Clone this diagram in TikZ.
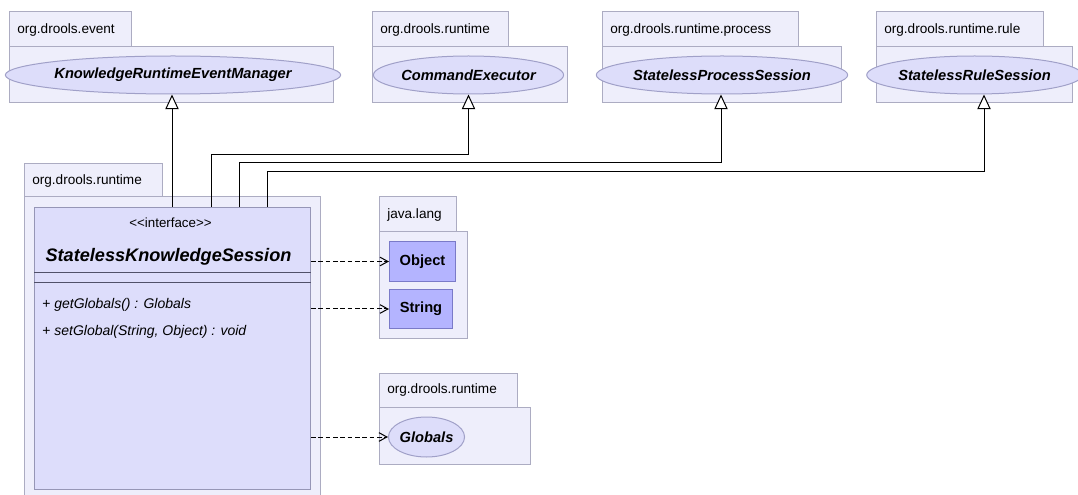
\documentclass[tikz,border=0pt]{standalone}
\usepackage{fontspec}
\setmainfont{Liberation Sans}
\usepackage{tikz}
\usetikzlibrary{arrows.meta, shapes.geometric, calc}
\definecolor{pkgfill}{RGB}{238,238,251}
\definecolor{pkgdraw}{RGB}{172,172,194}
\definecolor{clsfill}{RGB}{221,221,251}
\definecolor{clsdraw}{RGB}{150,150,182}
\definecolor{ifill}{RGB}{221,221,250}
\definecolor{idraw}{RGB}{160,160,200}
\definecolor{ofill}{RGB}{180,180,255}
\definecolor{odraw}{RGB}{122,122,200}
\definecolor{sepcol}{RGB}{80,80,105}
\tikzset{
  pkgbox/.style={draw=pkgdraw, fill=pkgfill, line width=0.75pt},
  pkglabel/.style={anchor=west, inner sep=0pt, font=\fontsize{10.2}{12}\selectfont},
  iface/.style={ellipse, draw=idraw, fill=ifill, line width=0.75pt, inner sep=0pt,
    minimum height=28.5pt, font=\bfseries\itshape\fontsize{11}{13}\selectfont},
  jclass/.style={rectangle, draw=odraw, fill=ofill, line width=0.75pt, inner sep=0pt,
    anchor=north west, font=\bfseries\fontsize{11}{13}\selectfont},
  realize/.style={-{Triangle[length=11pt, width=10pt, fill=white]}, line width=0.75pt, color=black},
  depend/.style={-{Straight Barb[length=6pt, width=6.5pt]}, dash pattern=on 3.5pt off 2pt, line width=0.75pt, color=black},
  sepline/.style={draw=sepcol, line width=0.75pt}
}
\begin{document}
\begin{tikzpicture}[x=0.75pt, y=-0.75pt]
  \clip (0,0) rectangle (1078,495);
  \fill[white] (0,0) rectangle (1078,495);

  % Packages on top
  \draw[pkgbox] (9,12) rectangle (131,47);
  \draw[pkgbox] (9,47) rectangle (333,103);
  \node[pkglabel] (pkgevent) at (17,30) {org.drools.event};

  \draw[pkgbox] (372,12) rectangle (508,47);
  \draw[pkgbox] (372,47) rectangle (567,103);
  \node[pkglabel] (pkgruntime) at (380,30) {org.drools.runtime};

  \draw[pkgbox] (602,12) rectangle (798,47);
  \draw[pkgbox] (602,47) rectangle (841,103);
  \node[pkglabel] (pkgprocess) at (610,30) {org.drools.runtime.process};

  \draw[pkgbox] (876,12) rectangle (1043,47);
  \draw[pkgbox] (876,47) rectangle (1072,103);
  \node[pkglabel] (pkgrule) at (884,30) {org.drools.runtime.rule};

  % Interfaces on top
  \node[iface, minimum width=232.5pt] (evtmgr) at (173,75) {KnowledgeRuntimeEventManager};
  \node[iface, minimum width=132.75pt] (cmdexec) at (468.5,75) {CommandExecutor};
  \node[iface, minimum width=166.5pt] (procsess) at (722,75) {StatelessProcessSession};
  \node[iface, minimum width=132.75pt] (rulesess) at (974.5,75) {StatelessRuleSession};

  % Main package and class
  \draw[pkgbox] (24,164) rectangle (162,197);
  \draw[pkgbox] (24,197) rectangle (320,497);
  \node[pkglabel] (pkgmain) at (32,181) {org.drools.runtime};

  \node[rectangle, draw=clsdraw, fill=clsfill, line width=0.75pt, anchor=north west,
    minimum width=207pt, minimum height=211.5pt, inner sep=0pt] (cls) at (34,207) {};
  \node[font=\fontsize{10}{12}\selectfont] (stereo) at ($(cls.north)+(-2,16)$) {{<}{<}interface{>}{>}};
  \node[font=\bfseries\itshape\fontsize{13.6}{16}\selectfont] (clsname) at ($(cls.north)+(-4,50)$) {StatelessKnowledgeSession};
  \draw[sepline] ($(cls.north west)+(0,66)$) -- ($(cls.north east)+(0,66)$);
  \draw[sepline] ($(cls.north west)+(0,76)$) -- ($(cls.north east)+(0,76)$);
  \node[anchor=west, inner sep=0pt, font=\fontsize{10.5}{12}\selectfont] (getg) at ($(cls.north west)+(8,98)$) {+ \textit{getGlobals() : Globals}};
  \node[anchor=west, inner sep=0pt, font=\fontsize{10.5}{12}\selectfont] (setg) at ($(cls.north west)+(8,125)$) {+ \textit{setGlobal(String, Object) : void}};

  % java.lang package
  \draw[pkgbox] (379,197) rectangle (456,232);
  \draw[pkgbox] (379,232) rectangle (467,338);
  \node[pkglabel] (pkgjava) at (387,215) {java.lang};
  \node[jclass, minimum width=49.5pt, minimum height=30pt] (object) at (389,241) {Object};
  \node[jclass, minimum width=47.25pt, minimum height=29.25pt] (string) at (389,289) {String};

  % Globals package
  \draw[pkgbox] (379,373) rectangle (517,407);
  \draw[pkgbox] (379,407) rectangle (530,464);
  \node[pkglabel] (pkgglobals) at (387,390) {org.drools.runtime};
  \node[iface, minimum width=56.25pt, minimum height=30pt] (globals) at (426.5,437) {Globals};

  % Realizations
  \draw[realize] ($(cls.north west)+(138,0)$) coordinate (r1) -- (r1 |- evtmgr.south);
  \draw[realize] ($(cls.north west)+(177,0)$) |- ($(cmdexec.south)+(0,60)$) -- (cmdexec.south);
  \draw[realize] ($(cls.north west)+(205,0)$) |- ($(procsess.south)+(-1,68)$) -- ($(procsess.south)+(-1,0)$);
  \draw[realize] ($(cls.north west)+(233,0)$) |- ($(rulesess.south)+(9.5,77)$) -- ($(rulesess.south)+(9.5,0)$);

  % Dependencies
  \draw[depend] (cls.east |- object.west) -- (object.west);
  \draw[depend] (cls.east |- string.west) -- (string.west);
  \draw[depend] (cls.east |- globals.west) -- (globals.west);
\end{tikzpicture}
\end{document}
